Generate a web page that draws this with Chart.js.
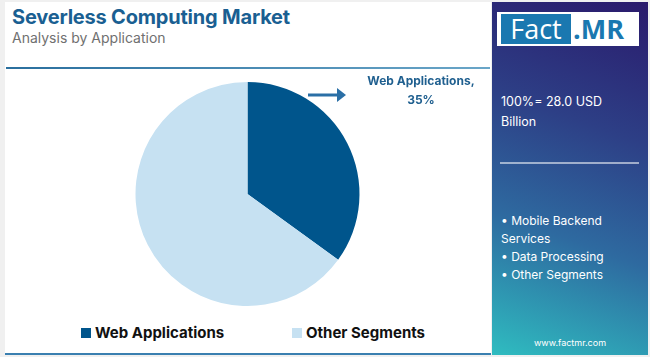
<!DOCTYPE html>
<html>
<head>
<meta charset="utf-8">
<script src="https://cdn.jsdelivr.net/npm/chart.js@4"></script>
<style>
  html, body { margin:0; padding:0; width:650px; height:357px; overflow:hidden; background:#f0f0f0; font-family: Inter, "Open Sans", sans-serif; }
  #card { position:absolute; left:5px; top:2px; width:486px; height:351px; background:#fff; border-bottom:2px solid #3a7fb0; }
  #title { position:absolute; left:12px; top:5px; font-size:20px; font-weight:700; color:#1a5f92; letter-spacing:-0.2px; }
  #subtitle { position:absolute; left:12px; top:29px; font-size:14px; color:#707070; }
  #rule { position:absolute; left:6px; top:67px; width:484px; height:2px; background:linear-gradient(to right,#2a6f9e,#6aa6c8); }
  #chartwrap { position:absolute; left:0px; top:72px; width:490px; height:240px; }
  #legend { position:absolute; left:0; top:323px; width:490px; height:20px; }
  .li { position:absolute; top:0; font-size:15px; font-weight:700; color:#111; line-height:20px; white-space:nowrap; }
  .li span.b { position:absolute; left:0; top:5px; width:10px; height:10px; }
  .li span.t { position:absolute; left:14px; top:0; }
  #label { position:absolute; left:350px; top:71px; width:142px; text-align:center; font-size:12px; font-weight:700; color:#1f5f8f; line-height:19px; }
  #arrow { position:absolute; left:308px; top:88px; }
  #panel { position:absolute; left:492px; top:2px; width:156px; height:353px; background:linear-gradient(200deg,#2a1a6c 0%,#2d3f86 35%,#2e6aa0 65%,#2fbcc0 100%); color:#fff; }
  #logo { position:absolute; left:5px; top:10px; width:142px; height:34px; background:#fff; }
  #logo .f { position:absolute; left:4px; top:2px; width:70px; height:30px; background:#1a78b0; color:#fff; font-size:27px; line-height:30px; text-align:center; font-family:"Open Sans",sans-serif; }
  #logo .m { position:absolute; left:76px; top:2px; font-size:27px; line-height:30px; font-weight:700; color:#1a78b0; font-family:"Open Sans",sans-serif; }
  #total { position:absolute; left:9px; top:90px; font-size:12.5px; line-height:20px; }
  #sep { position:absolute; left:8px; top:160px; width:139px; height:2px; background:rgba(255,255,255,0.55); }
  #list { position:absolute; left:9px; top:210px; font-size:12px; line-height:18px; }
  #web { position:absolute; left:0; width:156px; top:335px; text-align:center; font-size:9px; }
</style>
</head>
<body>
<div id="card"></div>
<div id="title">Severless Computing Market</div>
<div id="subtitle">Analysis by Application</div>
<div id="rule"></div>
<div id="chartwrap"><canvas id="c"></canvas></div>
<div id="legend"></div>
<div id="label">Web Applications,<br>35%</div>
<svg id="arrow" width="40" height="16"><line x1="0" y1="7" x2="30" y2="7" stroke="#2a6fa6" stroke-width="3"/><polygon points="29,0 38,7 29,14" fill="#2a6fa6"/></svg>
<div id="panel">
  <div id="logo"><div class="f">Fact</div><div class="m">.MR</div></div>
  <div id="total">100%= 28.0 USD<br>Billion</div>
  <div id="sep"></div>
  <div id="list">• Mobile Backend<br>Services<br>• Data Processing<br>• Other Segments</div>
  <div id="web">www.factmr.com</div>
</div>
<script>
const categories = ["Web Applications", "Other Segments"];
const shares = [35, 65];
const colors = ["#00558c", "#c6e1f2"];

const chart = new Chart(document.getElementById('c'), {
  type: 'pie',
  data: { labels: categories, datasets: [{ data: shares, backgroundColor: colors, borderWidth: 0 }] },
  options: {
    responsive: true,
    maintainAspectRatio: false,
    animation: false,
    layout: { padding: { top: 10, bottom: 6, left: 5, right: 0 } },
    plugins: { tooltip: { enabled: false }, legend: { display: false } }
  }
});

// legend built from the chart's own labels/colours
const legendX = [81, 292];
const lg = document.getElementById('legend');
chart.data.labels.forEach((lab, i) => {
  const d = document.createElement('div');
  d.className = 'li';
  d.style.left = legendX[i] + 'px';
  d.innerHTML = '<span class="b" style="background:' + chart.data.datasets[0].backgroundColor[i] + '"></span><span class="t">' + lab + '</span>';
  lg.appendChild(d);
});
</script>
</body>
</html>
